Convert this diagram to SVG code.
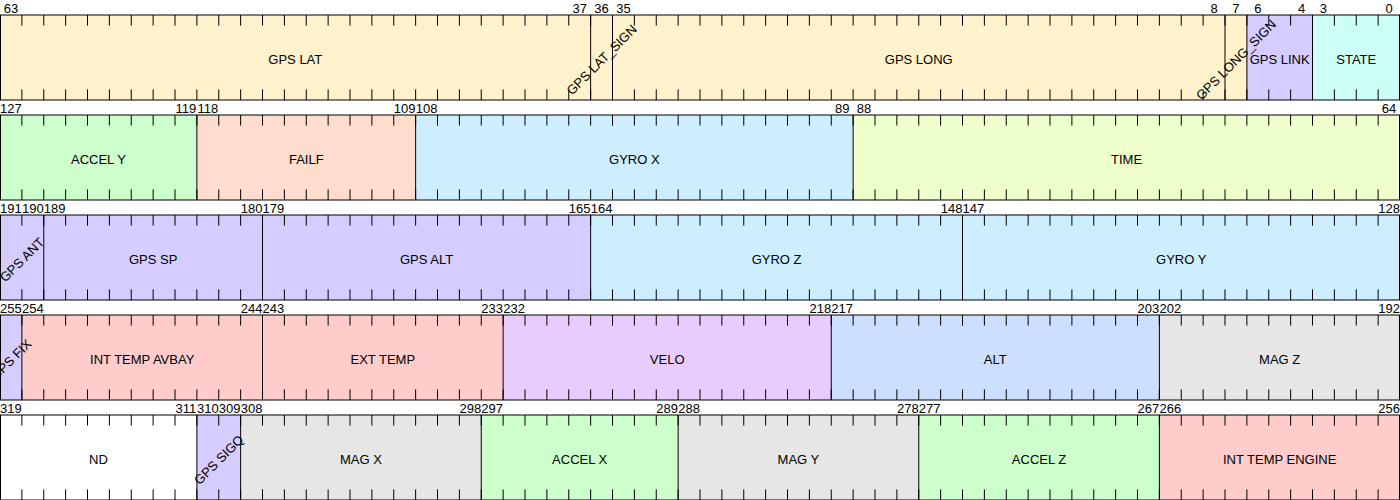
<svg xmlns="http://www.w3.org/2000/svg" xmlns:xlink="http://www.w3.org/1999/xlink" width="1400" height="500" viewBox="0 0 1400 500">
<style>
text{font-family:"Liberation Sans",Arial,sans-serif;font-size:13px;fill:#000;text-anchor:middle}
.f{stroke:none}
.y{fill:#FFF2CC}.c{fill:#CCFFF6}.l{fill:#D5CCFF}.g{fill:#CCFFCC}.o{fill:#FFDDCC}.b{fill:#CCEEFF}
.t{fill:#EEFFCC}.p{fill:#FFCCCC}.v{fill:#E9CCFF}.a{fill:#CCDFFF}.m{fill:#E6E6E6}.w{fill:#FFFFFF}
.ln{stroke:#000;stroke-width:1;fill:none}
</style>
<defs>
<path id="ticks" class="ln" d="M21.875 0v10.6m0 63.8v10.6M43.75 0v10.6m0 63.8v10.6M65.625 0v10.6m0 63.8v10.6M87.5 0v10.6m0 63.8v10.6M109.375 0v10.6m0 63.8v10.6M131.25 0v10.6m0 63.8v10.6M153.125 0v10.6m0 63.8v10.6M175 0v10.6m0 63.8v10.6M196.875 0v10.6m0 63.8v10.6M218.75 0v10.6m0 63.8v10.6M240.625 0v10.6m0 63.8v10.6M262.5 0v10.6m0 63.8v10.6M284.375 0v10.6m0 63.8v10.6M306.25 0v10.6m0 63.8v10.6M328.125 0v10.6m0 63.8v10.6M350 0v10.6m0 63.8v10.6M371.875 0v10.6m0 63.8v10.6M393.75 0v10.6m0 63.8v10.6M415.625 0v10.6m0 63.8v10.6M437.5 0v10.6m0 63.8v10.6M459.375 0v10.6m0 63.8v10.6M481.25 0v10.6m0 63.8v10.6M503.125 0v10.6m0 63.8v10.6M525 0v10.6m0 63.8v10.6M546.875 0v10.6m0 63.8v10.6M568.75 0v10.6m0 63.8v10.6M590.625 0v10.6m0 63.8v10.6M612.5 0v10.6m0 63.8v10.6M634.375 0v10.6m0 63.8v10.6M656.25 0v10.6m0 63.8v10.6M678.125 0v10.6m0 63.8v10.6M700 0v10.6m0 63.8v10.6M721.875 0v10.6m0 63.8v10.6M743.75 0v10.6m0 63.8v10.6M765.625 0v10.6m0 63.8v10.6M787.5 0v10.6m0 63.8v10.6M809.375 0v10.6m0 63.8v10.6M831.25 0v10.6m0 63.8v10.6M853.125 0v10.6m0 63.8v10.6M875 0v10.6m0 63.8v10.6M896.875 0v10.6m0 63.8v10.6M918.75 0v10.6m0 63.8v10.6M940.625 0v10.6m0 63.8v10.6M962.5 0v10.6m0 63.8v10.6M984.375 0v10.6m0 63.8v10.6M1006.25 0v10.6m0 63.8v10.6M1028.125 0v10.6m0 63.8v10.6M1050 0v10.6m0 63.8v10.6M1071.875 0v10.6m0 63.8v10.6M1093.75 0v10.6m0 63.8v10.6M1115.625 0v10.6m0 63.8v10.6M1137.5 0v10.6m0 63.8v10.6M1159.375 0v10.6m0 63.8v10.6M1181.25 0v10.6m0 63.8v10.6M1203.125 0v10.6m0 63.8v10.6M1225 0v10.6m0 63.8v10.6M1246.875 0v10.6m0 63.8v10.6M1268.75 0v10.6m0 63.8v10.6M1290.625 0v10.6m0 63.8v10.6M1312.5 0v10.6m0 63.8v10.6M1334.375 0v10.6m0 63.8v10.6M1356.25 0v10.6m0 63.8v10.6M1378.125 0v10.6m0 63.8v10.6"/>
</defs>
<rect width="1400" height="500" fill="#fff"/>

<!-- Row 0: bits 63..0 -->
<g id="gps_lat"><rect class="f y" x="0" y="15" width="590.625" height="85"/><text x="295.31" y="64.3">GPS LAT</text></g>
<g id="gps_long"><rect class="f y" x="612.5" y="15" width="612.5" height="85"/><text x="918.75" y="64.3">GPS LONG</text></g>
<g id="gps_link"><rect class="f l" x="1246.875" y="15" width="65.625" height="85"/><text x="1279.69" y="64.3">GPS LINK</text></g>
<g id="state"><rect class="f c" x="1312.5" y="15" width="87.5" height="85"/><text x="1356.25" y="64.3">STATE</text></g>
<g id="gps_lat_sign"><rect class="f y" x="590.625" y="15" width="21.875" height="85"/><text x="601.56" y="64.3" transform="rotate(-45 601.56 59.7)">GPS LAT_SIGN</text></g>
<g id="gps_long_sign"><rect class="f y" x="1225" y="15" width="21.875" height="85"/><text x="1235.94" y="64.3" transform="rotate(-45 1235.94 59.7)">GPS LONG_SIGN</text></g>

<!-- Row 1: bits 127..64 -->
<g id="accel_y"><rect class="f g" x="0" y="115" width="196.875" height="85"/><text x="98.44" y="164.3">ACCEL Y</text></g>
<g id="failf"><rect class="f o" x="196.875" y="115" width="218.75" height="85"/><text x="306.25" y="164.3">FAILF</text></g>
<g id="gyro_x"><rect class="f b" x="415.625" y="115" width="437.5" height="85"/><text x="634.38" y="164.3">GYRO X</text></g>
<g id="time"><rect class="f t" x="853.125" y="115" width="546.875" height="85"/><text x="1126.56" y="164.3">TIME</text></g>

<!-- Row 2: bits 191..128 -->
<g id="gps_sp"><rect class="f l" x="43.75" y="215" width="218.75" height="85"/><text x="153.13" y="264.3">GPS SP</text></g>
<g id="gps_alt"><rect class="f l" x="262.5" y="215" width="328.125" height="85"/><text x="426.56" y="264.3">GPS ALT</text></g>
<g id="gyro_z"><rect class="f b" x="590.625" y="215" width="371.875" height="85"/><text x="776.56" y="264.3">GYRO Z</text></g>
<g id="gyro_y"><rect class="f b" x="962.5" y="215" width="437.5" height="85"/><text x="1181.25" y="264.3">GYRO Y</text></g>
<g id="gps_ant"><rect class="f l" x="0" y="215" width="43.75" height="85"/><text x="21.88" y="264.3" transform="rotate(-45 21.88 259.7)">GPS ANT</text></g>

<!-- Row 3: bits 255..192 -->
<g id="int_temp_avbay"><rect class="f p" x="21.875" y="315" width="240.625" height="85"/><text x="142.19" y="364.3">INT TEMP AVBAY</text></g>
<g id="ext_temp"><rect class="f p" x="262.5" y="315" width="240.625" height="85"/><text x="382.81" y="364.3">EXT TEMP</text></g>
<g id="velo"><rect class="f v" x="503.125" y="315" width="328.125" height="85"/><text x="667.19" y="364.3">VELO</text></g>
<g id="alt"><rect class="f a" x="831.25" y="315" width="328.125" height="85"/><text x="995.31" y="364.3">ALT</text></g>
<g id="mag_z"><rect class="f m" x="1159.375" y="315" width="240.625" height="85"/><text x="1279.69" y="364.3">MAG Z</text></g>
<g id="gps_fix"><rect class="f l" x="0" y="315" width="21.875" height="85"/><text x="10.94" y="364.3" transform="rotate(-45 10.94 359.7)">GPS FIX</text></g>

<!-- Row 4: bits 319..256 -->
<g id="nd"><rect class="f w" x="0" y="415" width="196.875" height="85"/><text x="98.44" y="464.3">ND</text></g>
<g id="mag_x"><rect class="f m" x="240.625" y="415" width="240.625" height="85"/><text x="360.94" y="464.3">MAG X</text></g>
<g id="accel_x"><rect class="f g" x="481.25" y="415" width="196.875" height="85"/><text x="579.69" y="464.3">ACCEL X</text></g>
<g id="mag_y"><rect class="f m" x="678.125" y="415" width="240.625" height="85"/><text x="798.44" y="464.3">MAG Y</text></g>
<g id="accel_z"><rect class="f g" x="918.75" y="415" width="240.625" height="85"/><text x="1039.06" y="464.3">ACCEL Z</text></g>
<g id="int_temp_engine"><rect class="f p" x="1159.375" y="415" width="240.625" height="85"/><text x="1279.69" y="464.3">INT TEMP ENGINE</text></g>
<g id="gps_sigq"><rect class="f l" x="196.875" y="415" width="43.75" height="85"/><text x="218.75" y="464.3" transform="rotate(-45 218.75 459.7)">GPS SIGQ</text></g>

<!-- lines: ticks, dividers, outlines -->
<g id="lines" class="ln">
<use xlink:href="#ticks" href="#ticks" y="15"/>
<use xlink:href="#ticks" href="#ticks" y="115"/>
<use xlink:href="#ticks" href="#ticks" y="215"/>
<use xlink:href="#ticks" href="#ticks" y="315"/>
<use xlink:href="#ticks" href="#ticks" y="415"/>
<path d="M590.625 15v85M612.5 15v85M1225 15v85M1246.875 15v85M1312.5 15v85"/>
<path d="M196.875 115v85M415.625 115v85M853.125 115v85"/>
<path d="M43.75 215v85M262.5 215v85M590.625 215v85M962.5 215v85"/>
<path d="M21.875 315v85M262.5 315v85M503.125 315v85M831.25 315v85M1159.375 315v85"/>
<path d="M196.875 415v85M240.625 415v85M481.25 415v85M678.125 415v85M918.75 415v85M1159.375 415v85"/>
<rect x="0.5" y="15" width="1399" height="85"/>
<rect x="0.5" y="115" width="1399" height="85"/>
<rect x="0.5" y="215" width="1399" height="85"/>
<rect x="0.5" y="315" width="1399" height="85"/>
<rect x="0.5" y="415" width="1399" height="85"/>
</g>

<!-- bit numbers -->
<g id="bit_labels">
<text x="10.94" y="12.5">63</text><text x="579.69" y="12.5">37</text><text x="601.56" y="12.5">36</text><text x="623.44" y="12.5">35</text><text x="1214.06" y="12.5">8</text><text x="1235.94" y="12.5">7</text><text x="1257.81" y="12.5">6</text><text x="1301.56" y="12.5">4</text><text x="1323.44" y="12.5">3</text><text x="1389.06" y="12.5">0</text>
<text x="10.94" y="112.5">127</text><text x="185.94" y="112.5">119</text><text x="207.81" y="112.5">118</text><text x="404.69" y="112.5">109</text><text x="426.56" y="112.5">108</text><text x="842.19" y="112.5">89</text><text x="864.06" y="112.5">88</text><text x="1389.06" y="112.5">64</text>
<text x="10.94" y="212.5">191</text><text x="32.81" y="212.5">190</text><text x="54.69" y="212.5">189</text><text x="251.56" y="212.5">180</text><text x="273.44" y="212.5">179</text><text x="579.69" y="212.5">165</text><text x="601.56" y="212.5">164</text><text x="951.56" y="212.5">148</text><text x="973.44" y="212.5">147</text><text x="1389.06" y="212.5">128</text>
<text x="10.94" y="312.5">255</text><text x="32.81" y="312.5">254</text><text x="251.56" y="312.5">244</text><text x="273.44" y="312.5">243</text><text x="492.19" y="312.5">233</text><text x="514.06" y="312.5">232</text><text x="820.31" y="312.5">218</text><text x="842.19" y="312.5">217</text><text x="1148.44" y="312.5">203</text><text x="1170.31" y="312.5">202</text><text x="1389.06" y="312.5">192</text>
<text x="10.94" y="412.5">319</text><text x="185.94" y="412.5">311</text><text x="207.81" y="412.5">310</text><text x="229.69" y="412.5">309</text><text x="251.56" y="412.5">308</text><text x="470.31" y="412.5">298</text><text x="492.19" y="412.5">297</text><text x="667.19" y="412.5">289</text><text x="689.06" y="412.5">288</text><text x="907.81" y="412.5">278</text><text x="929.69" y="412.5">277</text><text x="1148.44" y="412.5">267</text><text x="1170.31" y="412.5">266</text><text x="1389.06" y="412.5">256</text>
</g>
</svg>
